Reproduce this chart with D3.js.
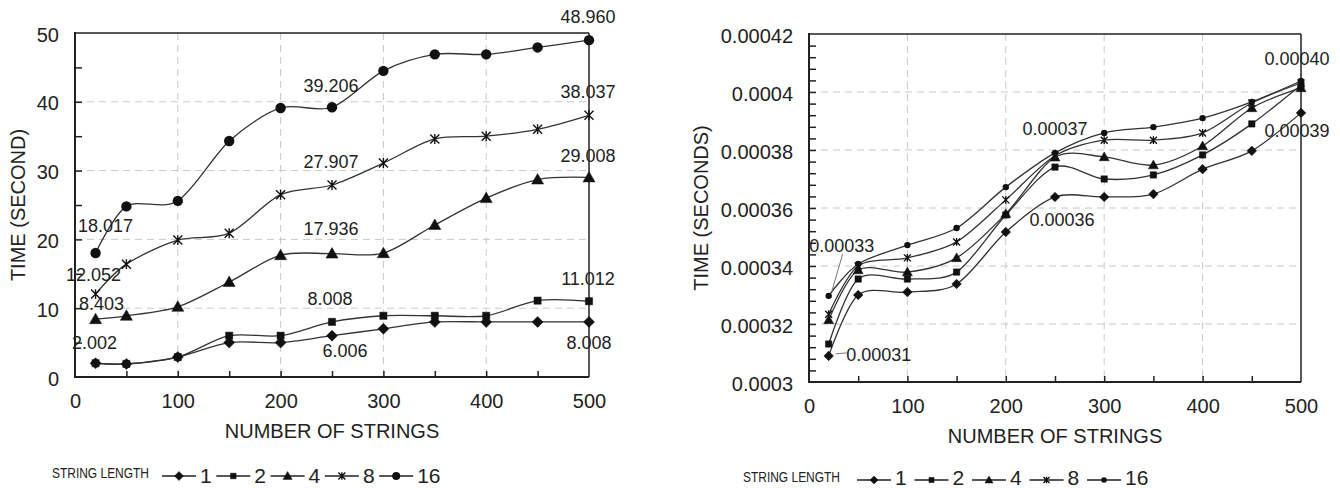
<!DOCTYPE html>
<html>
<head>
<meta charset="utf-8">
<script src="https://cdn.jsdelivr.net/npm/d3@7"></script>
<style>
body { margin: 0; background: #fff; }
svg text { font-family: "Liberation Sans", Arial, sans-serif; fill: #222; }
.narrow { font-family: "Liberation Sans Narrow", "Arial Narrow", "Liberation Sans", sans-serif; }
</style>
</head>
<body>
<svg id="chart" width="1340" height="488"></svg>
<script>
// x values shared by both charts
var stringCounts = [20, 50, 100, 150, 200, 250, 300, 350, 400, 450, 500];
var lengthNames = ["1", "2", "4", "8", "16"];
var markerTypes = ["diamond", "square", "triangle", "star", "circle"];

// left chart: total time (seconds)
var totalLen1  = [2.002, 1.9, 2.9, 5.0, 5.0, 6.006, 7.0, 8.0, 8.0, 8.0, 8.008];
var totalLen2  = [2.0, 1.9, 2.9, 6.0, 6.0, 8.008, 8.9, 8.9, 8.9, 11.1, 11.012];
var totalLen4  = [8.403, 8.9, 10.2, 13.8, 17.7, 17.936, 18.0, 22.1, 26.0, 28.7, 29.008];
var totalLen8  = [12.052, 16.4, 19.9, 20.9, 26.5, 27.907, 31.1, 34.6, 35.0, 36.0, 38.037];
var totalLen16 = [18.017, 24.8, 25.6, 34.3, 39.1, 39.206, 44.5, 46.9, 46.9, 47.9, 48.960];

// right chart: time per string (seconds)
var avgLen1  = [0.000309, 0.000330, 0.000331, 0.0003338, 0.0003517, 0.0003638, 0.0003638, 0.0003648, 0.0003734, 0.0003797, 0.0003928];
var avgLen2  = [0.0003131, 0.0003355, 0.0003355, 0.0003379, 0.0003576, 0.0003741, 0.000370, 0.0003714, 0.0003783, 0.000389, 0.0004024];
var avgLen4  = [0.0003214, 0.0003386, 0.0003379, 0.0003428, 0.000358, 0.0003775, 0.0003776, 0.0003748, 0.0003814, 0.0003945, 0.0004014];
var avgLen8  = [0.0003234, 0.00034, 0.0003428, 0.0003483, 0.0003628, 0.000378, 0.0003834, 0.0003834, 0.0003859, 0.0003962, 0.0004031];
var avgLen16 = [0.0003297, 0.0003407, 0.0003472, 0.0003531, 0.0003672, 0.000379, 0.0003859, 0.0003879, 0.000391, 0.0003966, 0.0004038];

var xTickValues = [0, 100, 200, 300, 400, 500];
var xMinorTicks = [50, 100, 150, 200, 250, 300, 350, 400, 450];
var leftYTicks = [0, 10, 20, 30, 40, 50];
var leftYMinor = [5, 10, 15, 20, 25, 30, 35, 40, 45];
var rightYTicks = [0.0003, 0.00032, 0.00034, 0.00036, 0.00038, 0.0004, 0.00042];
var rightYTickLabels = ["0.0003", "0.00032", "0.00034", "0.00036", "0.00038", "0.0004", "0.00042"];
var rightYMinor = d3.range(1, 30).map(function(i) { return 0.0003 + i * 0.000004; });

// data labels: [text, series index, point index]
var leftLabels = [
	["48.960", 4, 10], ["38.037", 3, 10], ["29.008", 2, 10], ["11.012", 1, 10], ["8.008", 0, 10],
	["39.206", 4, 5], ["27.907", 3, 5], ["17.936", 2, 5], ["8.008", 1, 5], ["6.006", 0, 5],
	["18.017", 4, 0], ["12.052", 3, 0], ["8.403", 2, 0], ["2.002", 0, 0]
];
var rightLabels = [
	["0.00040", 4, 10], ["0.00039", 0, 10], ["0.00037", 4, 5], ["0.00036", 0, 5],
	["0.00033", 4, 0], ["0.00031", 0, 0]
];

var svg = d3.select("#chart");

function markerPath(type, s) {
	if (type == "diamond") return "M0," + (-s) + "L" + s + ",0L0," + s + "L" + (-s) + ",0Z";
	if (type == "square") return "M" + (-s * 0.8) + "," + (-s * 0.8) + "h" + (1.6 * s) + "v" + (1.6 * s) + "h" + (-1.6 * s) + "Z";
	if (type == "triangle") return "M0," + (-s) + "L" + s + "," + (s * 0.75) + "L" + (-s) + "," + (s * 0.75) + "Z";
	if (type == "star") return "M" + (-s) + "," + (-s) + "L" + s + "," + s + "M" + (-s) + "," + s + "L" + s + "," + (-s) + "M0," + (-s * 1.1) + "L0," + (s * 1.1);
	return null;
}

function drawMarker(g, type, cx, cy, s) {
	if (type == "circle") {
		g.append("circle").attr("cx", cx).attr("cy", cy).attr("r", s).attr("fill", "#111");
	} else {
		g.append("path")
			.attr("d", markerPath(type, s))
			.attr("transform", "translate(" + cx + "," + cy + ")")
			.attr("fill", type == "star" ? "none" : "#111")
			.attr("stroke", "#111")
			.attr("stroke-width", type == "star" ? 1.4 : 0.5);
	}
}

function drawPanel(opt) {
	var g = svg.append("g");
	var x = d3.scaleLinear().domain([0, 500]).range([opt.left, opt.right]);
	var y = d3.scaleLinear().domain(opt.yDomain).range([opt.bottom, opt.top]);

	// dashed grid
	g.selectAll(".vg").data([100, 200, 300, 400]).enter().append("line")
		.attr("x1", function(d) { return x(d); }).attr("x2", function(d) { return x(d); })
		.attr("y1", opt.top).attr("y2", opt.bottom)
		.attr("stroke", "#c8c8c8").attr("stroke-dasharray", "7,5");
	g.selectAll(".hg").data(opt.yTicks.slice(1, -1)).enter().append("line")
		.attr("x1", opt.left).attr("x2", opt.right)
		.attr("y1", function(d) { return y(d); }).attr("y2", function(d) { return y(d); })
		.attr("stroke", "#c8c8c8").attr("stroke-dasharray", "7,5");

	// inner minor ticks
	var bx = g.append("g").attr("transform", "translate(0," + opt.bottom + ")")
		.call(d3.axisBottom(x).tickValues(xMinorTicks).tickSize(-6).tickFormat(""));
	var ly = g.append("g").attr("transform", "translate(" + opt.left + ",0)")
		.call(d3.axisLeft(y).tickValues(opt.yMinor).tickSize(-7).tickFormat(""));
	bx.select(".domain").remove();
	ly.select(".domain").remove();
	g.selectAll(".tick line").attr("stroke", "#222").attr("stroke-width", 1.5);

	// tick labels
	var xl = g.append("g").attr("transform", "translate(0," + opt.bottom + ")")
		.call(d3.axisBottom(x).tickValues(xTickValues).tickSize(0).tickPadding(17));
	var yl = g.append("g").attr("transform", "translate(" + opt.left + ",0)")
		.call(d3.axisLeft(y).tickValues(opt.yTicks).tickSize(0).tickPadding(16)
			.tickFormat(function(d, i) { return opt.yLabels[i]; }));
	xl.select(".domain").remove();
	yl.select(".domain").remove();
	xl.selectAll("text").attr("font-size", 20).attr("fill", "#222");
	yl.selectAll("text").attr("font-size", 20).attr("fill", "#222").attr("dy", "0.4em");
	xl.attr("font-family", null); yl.attr("font-family", null);

	// frame
	g.append("line").attr("x1", opt.left).attr("x2", opt.right).attr("y1", opt.top).attr("y2", opt.top)
		.attr("stroke", "#222").attr("stroke-width", 1.5);
	g.append("line").attr("x1", opt.right).attr("x2", opt.right).attr("y1", opt.top).attr("y2", opt.bottom)
		.attr("stroke", "#222").attr("stroke-width", 1.5);
	g.append("line").attr("x1", opt.left).attr("x2", opt.right).attr("y1", opt.bottom).attr("y2", opt.bottom)
		.attr("stroke", "#222").attr("stroke-width", 2);
	g.append("line").attr("x1", opt.left).attr("x2", opt.left).attr("y1", opt.top - 1).attr("y2", opt.bottom + 1)
		.attr("stroke", "#222").attr("stroke-width", 2);

	// series
	var line = d3.line()
		.x(function(d, i) { return x(stringCounts[i]); })
		.y(function(d) { return y(d); })
		.curve(d3.curveCardinal.tension(0.1));
	opt.series.forEach(function(vals, si) {
		g.append("path").datum(vals).attr("d", line)
			.attr("fill", "none").attr("stroke", "#333").attr("stroke-width", 1.3);
	});
	opt.series.forEach(function(vals, si) {
		vals.forEach(function(v, i) {
			drawMarker(g, markerTypes[si], x(stringCounts[i]), y(v), opt.markerSizes[si]);
		});
	});

	// data labels
	opt.labels.forEach(function(lb, k) {
		var off = opt.labelOffsets[k];
		var px = x(stringCounts[lb[2]]), py = y(opt.series[lb[1]][lb[2]]);
		g.append("text").attr("x", px + off[0]).attr("y", py + off[1])
			.attr("text-anchor", "middle").attr("font-size", 18).text(lb[0]);
		if (off.length > 2) {
			g.append("line").attr("x1", px + off[2]).attr("y1", py + off[3])
				.attr("x2", px + off[4]).attr("y2", py + off[5])
				.attr("stroke", "#777").attr("stroke-width", 1);
		}
	});

	// axis titles
	g.append("text").attr("x", (opt.left + opt.right) / 2).attr("y", opt.bottom + 61)
		.attr("text-anchor", "middle").attr("font-size", 20).text("NUMBER OF STRINGS");
	g.append("text")
		.attr("transform", "translate(" + opt.yTitleX + "," + (opt.top + opt.bottom) / 2 + ") rotate(-90)")
		.attr("text-anchor", "middle").attr("font-size", 20).text(opt.yTitle);

	// legend
	var lg = g.append("g");
	lg.append("text").attr("class", "narrow").attr("x", opt.legendX).attr("y", opt.legendY)
		.attr("font-size", 15).attr("textLength", 97).attr("lengthAdjust", "spacingAndGlyphs")
		.text("STRING LENGTH");
	lengthNames.forEach(function(name, i) {
		var lx = opt.legendLineX + i * opt.legendStep;
		lg.append("line").attr("x1", lx).attr("x2", lx + 34)
			.attr("y1", opt.legendLineY).attr("y2", opt.legendLineY)
			.attr("stroke", "#222").attr("stroke-width", 1.5);
		drawMarker(lg, markerTypes[i], lx + 17, opt.legendLineY, opt.legendMarkerSizes[i]);
		lg.append("text").attr("class", "narrow").attr("x", lx + 38).attr("y", opt.legendDigitY)
			.attr("font-size", 21).text(name);
	});
}

drawPanel({
	left: 75, right: 589, top: 33, bottom: 377,
	yDomain: [0, 50], yTicks: leftYTicks, yLabels: leftYTicks.map(String), yMinor: leftYMinor,
	series: [totalLen1, totalLen2, totalLen4, totalLen8, totalLen16],
	markerSizes: [5.5, 4.5, 6, 4.5, 5.2],
	labels: leftLabels,
	labelOffsets: [[-1, -17], [-1, -17], [-1, -15], [-1, -16], [0, 27],
		[-1, -15], [-1, -17], [-1, -19], [-2, -17], [13, 21],
		[10, -21], [-2, -13], [6, -9], [-1, -14]],
	yTitle: "TIME (SECOND)", yTitleX: 25,
	legendX: 52, legendY: 478, legendDigitY: 483, legendLineX: 162, legendLineY: 476, legendStep: 54.3,
	legendMarkerSizes: [4.5, 3.5, 4.5, 3.5, 4]
});

drawPanel({
	left: 809, right: 1301, top: 34, bottom: 382,
	yDomain: [0.0003, 0.00042], yTicks: rightYTicks, yLabels: rightYTickLabels, yMinor: rightYMinor,
	series: [avgLen1, avgLen2, avgLen4, avgLen8, avgLen16],
	markerSizes: [4.8, 4, 5, 3.5, 3.2],
	labels: rightLabels,
	labelOffsets: [[-4, -16], [-4, 24], [0, -18], [7, 29],
		[13, -44, 14, -42, 3, -4], [50, 5, 7, -2, 18, -3]],
	yTitle: "TIME (SECONDS)", yTitleX: 708,
	legendX: 743, legendY: 482, legendDigitY: 485, legendLineX: 857, legendLineY: 480, legendStep: 57.5,
	legendMarkerSizes: [4, 3.2, 4, 3, 2.8]
});
</script>
</body>
</html>
